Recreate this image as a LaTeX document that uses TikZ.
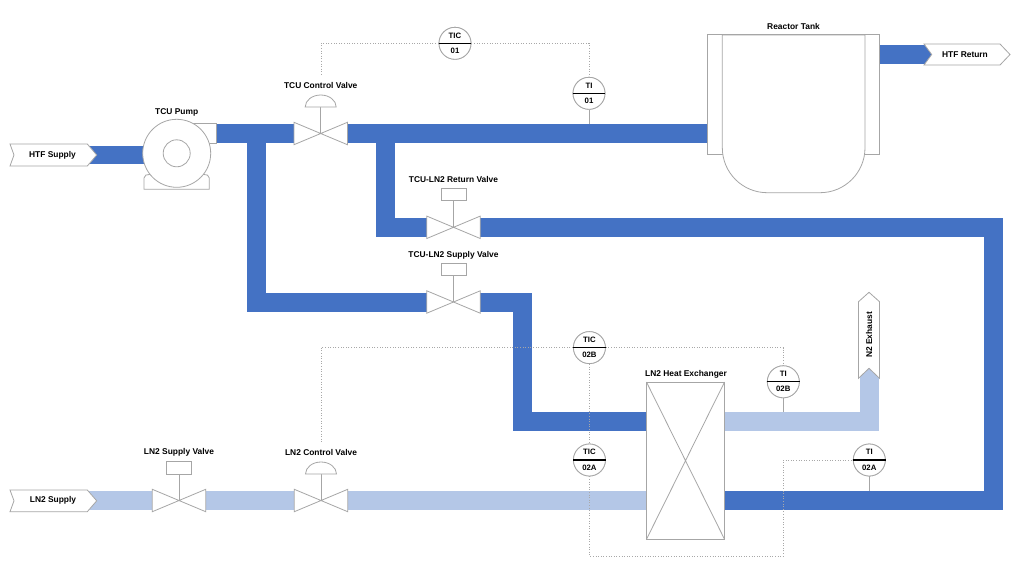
\documentclass[tikz,border=0pt]{standalone}
\usepackage{fontspec}
\setmainfont{Liberation Sans}
\usetikzlibrary{calc}
\definecolor{dkblue}{HTML}{4472C4}
\definecolor{ltblue}{HTML}{B4C7E7}
\definecolor{outl}{HTML}{A6A6A6}
\definecolor{sigc}{HTML}{A8A8A8}
\begin{document}
\begin{tikzpicture}[x=1pt,y=-1pt,
 pipe/.style={line width=19pt, line join=miter, line cap=butt, draw=dkblue},
 lpipe/.style={pipe, draw=ltblue},
 eq/.style={draw=outl, line width=0.8pt, fill=white},
 ln/.style={draw=outl, line width=0.8pt},
 lbl/.style={font=\fontsize{8.4}{10}\selectfont\bfseries, inner sep=0pt, text=black},
 itxt/.style={font=\fontsize{7.8}{9}\selectfont\bfseries, inner sep=0pt, text=black},
 valvebox/.style={minimum width=53pt, minimum height=22pt, inner sep=0pt, draw=none},
 inst/.style={circle, draw=outl, fill=white, line width=0.8pt, minimum size=32pt, inner sep=0pt},
 sig/.style={draw=sigc, line width=0.8pt, dash pattern=on 1pt off 1.6pt},
 bar/.style={draw=black, line width=1.3pt},
 dome/.pic={\draw[eq] (-15.5,0) .. controls (-15.5,-6.6) and (-8.6,-12) .. (0,-12) .. controls (8.6,-12) and (15.5,-6.6) .. (15.5,0) -- cycle;},
 abox/.pic={\draw[eq] (-12.4,0) rectangle (12.4,-12.5);},
]
\useasboundingbox (0,0) rectangle (1024,576);
\fill[white] (0,0) rectangle (1024,576);

% ---------- invisible placement nodes ----------
\node[valvebox] (tcv) at (320.7,133.5) {};
\node[valvebox] (trv) at (453.5,227.3) {};
\node[valvebox] (tsv) at (453.5,302) {};
\node[valvebox] (lsv) at (179,500.5) {};
\node[valvebox] (lcv) at (321,500.5) {};
\node[minimum width=77.6pt, minimum height=156.7pt, inner sep=0pt] (hx) at (685.5,460.65) {};
\node[circle, minimum size=68pt, inner sep=0pt] (pump) at (176.7,153.3) {};
\node[minimum width=171.6pt, minimum height=119pt, inner sep=0pt] (jacket) at (793.5,94.5) {};

\coordinate (pd) at (216,133.5);
\coordinate (j1) at (256.3,133.5);
\coordinate (b1) at (256.3,302);
\coordinate (j2) at (385.5,133.5);
\coordinate (b2) at (385.5,227.3);
\coordinate (b3) at (993.7,227.3);
\coordinate (b4) at (993.7,500.5);
\coordinate (b5) at (522,302);
\coordinate (b6) at (522,421.7);
\coordinate (b7) at (869,421.7);
\coordinate (hsend) at (87,155);
\coordinate (lsend) at (87,500.5);
\coordinate (hrtip) at (931.7,54.5);
\coordinate (jout) at (879.3,54.5);
\coordinate (exn) at (869,368.3);

% ---------- pipes ----------
\draw[pipe, line width=18pt] (hsend) -- (hsend -| pump.center);
\draw[pipe] (pd) -- (tcv.west);
\draw[pipe] (j1) -- (b1) -- (tsv.west);
\draw[pipe] (tcv.east) -- (tcv.east -| jacket.west);
\draw[pipe] (j2) -- (b2) -- (trv.west);
\draw[pipe] (trv.east) -- (b3) -- (b4) -- (b4 -| hx.east);
\draw[pipe] (tsv.east) -- (b5) -- (b6) -- (b6 -| hx.west);
\draw[pipe] (jout) -- (hrtip);
\draw[lpipe] (lsend) -- (lsv.west);
\draw[lpipe] (lsv.east) -- (lcv.west);
\draw[lpipe] (lcv.east) -- (lcv.east -| hx.west);
\draw[lpipe] (b7 -| hx.east) -- (b7) -- (exn);

% ---------- terminals ----------
\draw[eq] (10,144) -- (87.3,144) -- (96.7,155) -- (87.3,166) -- (10,166) -- (14,155) -- cycle;
\node[lbl] (hs) at (52.5,155) {HTF Supply};
\draw[eq] (10,490) -- (87.3,490) -- (96.7,500.8) -- (87.3,511.7) -- (10,511.7) -- (14,500.8) -- cycle;
\node[lbl] (ls) at (53,500.8) {LN2 Supply};
\draw[eq] (924,44) -- (1000,44) -- (1010,54.5) -- (1000,65) -- (924,65) -- (931.7,54.5) -- cycle;
\node[lbl] (hr) at (965,54.5) {HTF Return};
\draw[eq] (858.5,378.3) -- (858.5,301.7) -- (869,292.3) -- (879.5,301.7) -- (879.5,378.3) -- (869,368.3) -- cycle;
\node[lbl, rotate=90] (nx) at (869,335) {N2 Exhaust};

% ---------- pump ----------
\draw[eq] (180,123.5) rectangle (216,143.5);
\draw[eq] (144,189.3) -- (144,178) .. controls (144,175) and (147,174.4) .. (150,174.4) -- (203.4,174.4) .. controls (206.3,174.4) and (209.3,175) .. (209.3,178) -- (209.3,189.3) -- cycle;
\draw[eq] (pump.center) circle[radius=34];
\draw[ln] (pump.center) circle[radius=13.5];
\node[lbl] (pumpl) at (176.7,112.3) {TCU Pump};

% ---------- reactor ----------
\draw[eq] (jacket.north west) rectangle (jacket.south east);
\draw[eq] (722.3,35) -- (722.3,147.7) .. controls (722.3,172.6) and (742.4,192.7) .. (767.3,192.7) -- (820,192.7) .. controls (844.9,192.7) and (865,172.6) .. (865,147.7) -- (865,35) -- cycle;
\node[lbl] (rtl) at (793.5,26) {Reactor Tank};

% ---------- heat exchanger ----------
\draw[eq] (hx.north west) rectangle (hx.south east);
\draw[ln] (hx.north west) -- (hx.south east) (hx.north east) -- (hx.south west);
\node[lbl] (hxl) at (686,374) {LN2 Heat Exchanger};

% ---------- valves ----------
\foreach \v in {tcv,trv,tsv,lsv,lcv}{
  \draw[eq] (\v.north west) -- (\v.south east) -- (\v.north east) -- (\v.south west) -- cycle;
  \draw[ln] (\v.center) -- ++(0,-26.5);
}
\pic at ($(tcv)+(0,-26.5)$) {dome};
\pic at ($(lcv)+(0,-26.5)$) {dome};
\pic at ($(trv)+(0,-26.5)$) {abox};
\pic at ($(tsv)+(0,-26.5)$) {abox};
\pic at ($(lsv)+(0,-26.5)$) {abox};
\node[lbl] (tcvl) at (320.7,85.7) {TCU Control Valve};
\node[lbl] (trvl) at (453.5,179.3) {TCU-LN2 Return Valve};
\node[lbl] (tsvl) at (453.5,255) {TCU-LN2 Supply Valve};
\node[lbl] (lsvl) at (179,452.7) {LN2 Supply Valve};
\node[lbl] (lcvl) at (321,452.7) {LN2 Control Valve};

% ---------- instruments ----------
\node[inst] (tic1) at (455,43.3) {};
\node[inst] (ti1) at (589,93.3) {};
\node[inst] (tic2b) at (589.4,347.6) {};
\node[inst] (tic2a) at (589.4,460) {};
\node[inst] (ti2b) at (783.3,381.8) {};
\node[inst] (ti2a) at (869.3,460) {};

\coordinate (s1) at (321,75);
\coordinate (s2) at (321,443.3);
\coordinate (s3) at (589.4,556);
\coordinate (s4) at (783.3,556);
\coordinate (t1) at (589,124);
\coordinate (t2) at (783.3,411.7);
\coordinate (t3) at (869.3,491);

\draw[sig] (tic1.west) -| (s1);
\draw[sig] (tic1.east) -| (ti1.north);
\draw[sig] (tic2b.west) -| (s2);
\draw[sig] (tic2b.east) -| (ti2b.north);
\draw[sig] (tic2b.south) -- (tic2a.north);
\draw[sig] (tic2a.south) -- (s3) -- (s4) |- (ti2a.west);
\draw[ln] (ti1.south) -- (t1);
\draw[ln] (ti2b.south) -- (t2);
\draw[ln] (ti2a.south) -- (t3);

\foreach \n/\a/\b in {tic1/TIC/01, ti1/TI/01, tic2b/TIC/02B, tic2a/TIC/02A, ti2b/TI/02B, ti2a/TI/02A}{
  \draw[eq] (\n.center) circle[radius=16];
  \draw[bar] (\n.west) -- (\n.east);
  \node[itxt] (\n-t) at ([yshift=7.8pt]\n.center) {\a};
  \node[itxt] (\n-b) at ([yshift=-7.5pt]\n.center) {\b};
}
\end{tikzpicture}
\end{document}
